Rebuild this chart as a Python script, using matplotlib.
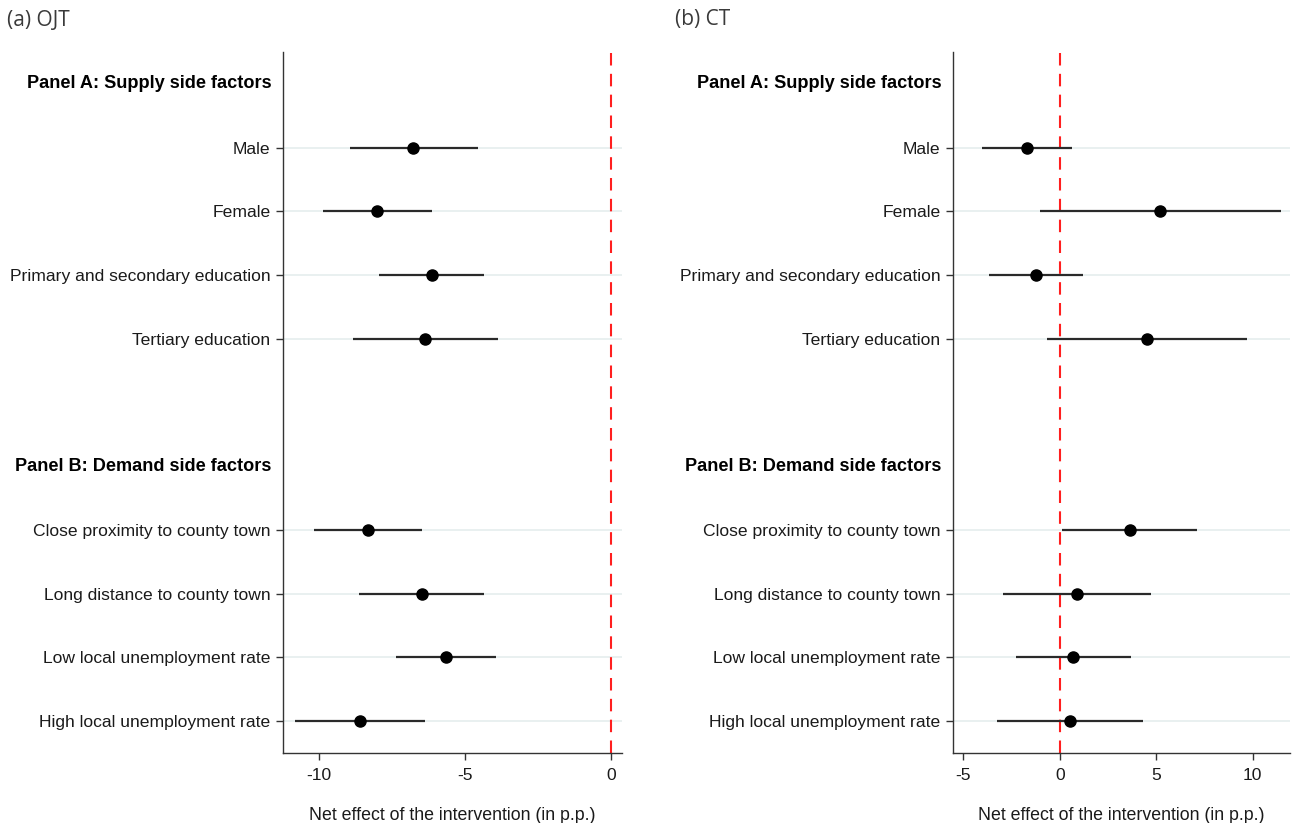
import matplotlib
matplotlib.use("Agg")
import matplotlib.pyplot as plt

plt.rcParams['font.family'] = ['Liberation Sans', 'DejaVu Sans']

# Row layout: headers and subgroup labels, top to bottom
header_a = "Panel A: Supply side factors"
header_b = "Panel B: Demand side factors"
supply_labels = ["Male", "Female", "Primary and secondary education", "Tertiary education"]
demand_labels = ["Close proximity to county town", "Long distance to county town",
                 "Low local unemployment rate", "High local unemployment rate"]

# (a) OJT: point estimates and 95% confidence bounds (p.p.)
ojt_est = [-6.76, -8.00, -6.14, -6.36, -8.30, -6.48, -5.66, -8.60]
ojt_lo = [-8.94, -9.85, -7.94, -8.82, -10.16, -8.63, -7.37, -10.82]
ojt_hi = [-4.54, -6.13, -4.35, -3.88, -6.46, -4.36, -3.94, -6.37]

# (b) CT: point estimates and 95% confidence bounds (p.p.)
ct_est = [-1.70, 5.19, -1.25, 4.53, 3.62, 0.87, 0.71, 0.53]
ct_lo = [-4.01, -1.04, -3.67, -0.64, 0.14, -2.97, -2.25, -3.23]
ct_hi = [0.62, 11.45, 1.18, 9.69, 7.11, 4.72, 3.70, 4.29]

ojt_ticks = [-10, -5, 0]
ct_ticks = [-5, 0, 5, 10]

# y positions: header A at 0, supply rows 1-4, blank 5, header B at 6, demand rows 7-10
labels = supply_labels + demand_labels
ypos = [1, 2, 3, 4, 7, 8, 9, 10]
header_pos = [0, 6]

fig = plt.figure(figsize=(12.93, 8.23), dpi=100)
ax1 = fig.add_axes([0.2189, 0.0851, 0.2622, 0.8517])
ax2 = fig.add_axes([0.7370, 0.0851, 0.2607, 0.8517])


def draw_panel(ax, est, lo, hi, ticks, xlim):
    for y in ypos:
        ax.axhline(y, color='#e9f0f0', lw=1.4, zorder=0)
    ax.axvline(0, color='#ff1f1f', lw=1.5, dashes=(6, 4), zorder=1)
    ax.hlines(ypos, lo, hi, color='#2a2a2a', lw=1.6, zorder=2)
    ax.plot(est, ypos, 'o', color='black', ms=8, zorder=3)
    ax.set_ylim(10.5, -0.5)
    ax.set_xlim(*xlim)
    ax.set_yticks(ypos)
    ax.set_yticklabels(labels, fontsize=12.6, color='#1a1a1a')
    ax.set_xticks(ticks)
    ax.set_xticklabels([str(t) for t in ticks], fontsize=12.6, color='#1a1a1a')
    ax.tick_params(axis='both', length=5, width=1, color='#333333', pad=4)
    ax.tick_params(axis='x', pad=6)
    for side in ('top', 'right'):
        ax.spines[side].set_visible(False)
    for side in ('left', 'bottom'):
        ax.spines[side].set_color('#333333')
        ax.spines[side].set_linewidth(1.0)
    for hp, txt in zip(header_pos, [header_a, header_b]):
        ax.annotate(txt, xy=(0, hp), xycoords=('axes fraction', 'data'),
                    xytext=(-8.5, 0), textcoords='offset points',
                    ha='right', va='center', fontsize=13.1, fontweight='bold',
                    color='black')
    ax.set_xlabel("Net effect of the intervention (in p.p.)", fontsize=12.8,
                  color='#1a1a1a', labelpad=17)


draw_panel(ax1, ojt_est, ojt_lo, ojt_hi, ojt_ticks, (-11.22, 0.38))
draw_panel(ax2, ct_est, ct_lo, ct_hi, ct_ticks, (-5.54, 11.94))

fig.text(7 / 1293, 1 - 20 / 823, "(a) OJT", fontsize=15, family='Open Sans',
         color='#3a3a3a', ha='left', va='center')
fig.text(675 / 1293, 1 - 20 / 823, "(b) CT", fontsize=15, family='Open Sans',
         color='#3a3a3a', ha='left', va='center')

fig.savefig("out.png", dpi=100)
